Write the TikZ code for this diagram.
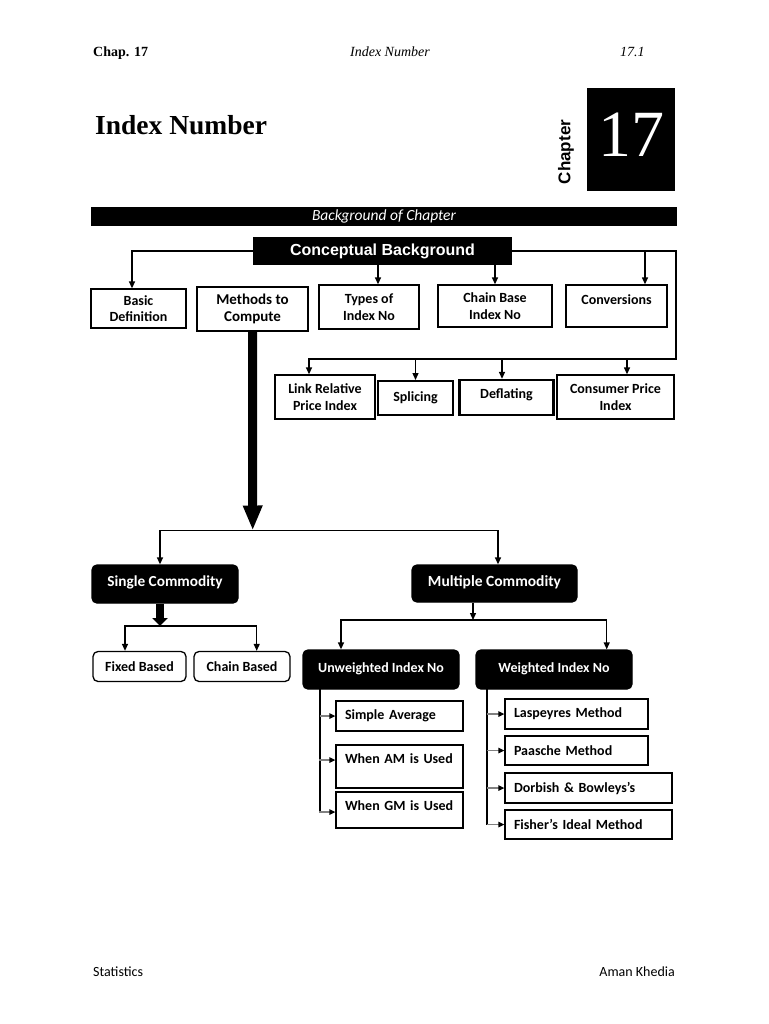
\documentclass[tikz,border=0pt]{standalone}
\usepackage{fontspec}
\setmainfont{Carlito}
\newfontfamily\tnr{Liberation Serif}
\newfontfamily\arial{Liberation Sans}
\usetikzlibrary{arrows.meta}
\begin{document}
\begin{tikzpicture}[x=1pt,y=-1pt,
  bf/.style={font=\bfseries\fontsize{14}{16.5}\selectfont},
  box/.style={draw, line width=1.3pt, inner sep=2pt, align=center, bf},
  tbox/.style={box, line width=2.3pt},
  bbox/.style={box, fill=black, text=white, rounded corners=5pt},
  rbox/.style={box, rounded corners=5pt},
  lbox/.style={box, align=left, inner xsep=9pt},
  ln/.style={line width=1.3pt},
  arr/.style={ln, -{Triangle[length=7pt,width=6pt]}},
  barr/.style={draw=black!50, line width=1.3pt, -{Triangle[length=6pt,width=5.5pt,color=black]}},
  vln/.style={line width=2.3pt}
]
\useasboundingbox (0,0) rectangle (768,1024);
\fill[white] (0,0) rectangle (768,1024);

% header
\node[anchor=base west, inner sep=0, font=\tnr\bfseries\fontsize{14}{16}\selectfont] (chap) at (93,57) {Chap. 17};
\node[anchor=base, inner sep=0, font=\tnr\itshape\fontsize{14}{16}\selectfont] (htitle) at (390,57) {Index Number};
\node[anchor=base west, inner sep=0, font=\tnr\itshape\fontsize{14}{16}\selectfont] (hpage) at (620,57) {17.1};

\node[anchor=base west, inner sep=0, font=\tnr\bfseries\fontsize{27.5}{30}\selectfont] (title) at (95,135) {Index Number};
\node[fill=black, text=white, minimum width=88pt, minimum height=103pt, inner sep=0, text depth=10pt,
      font=\tnr\fontsize{66}{66}\selectfont] (numbox) at (631,139.5) {17};
\node[rotate=90, inner sep=0, font=\arial\bfseries\fontsize{17}{19}\selectfont] (chapw) at (566,152) {Chapter};

\node[fill=black, text=white, minimum width=586pt, minimum height=19pt, inner sep=0,
      font=\itshape\fontsize{15.5}{17}\selectfont] (bar) at (384,216.5) {Background of Chapter};

% conceptual
\node[fill=black, text=white, minimum width=259pt, minimum height=28pt, inner sep=0,
      font=\arial\bfseries\fontsize{16}{18}\selectfont] (concept) at (382.5,251) {Conceptual Background};

\node[box, minimum width=95pt, minimum height=39pt] (basic) at (138.5,308.5) {Basic\\Definition};
\node[tbox, minimum width=111pt, minimum height=44pt, font=\bfseries\fontsize{15}{17.5}\selectfont] (methods) at (252.5,309) {Methods to\\Compute};
\node[box, minimum width=100pt, minimum height=44pt] (types) at (369,307) {Types of\\Index No};
\node[box, minimum width=114pt, minimum height=42pt] (chain) at (495,306) {Chain Base\\Index No};
\node[box, minimum width=101pt, minimum height=42pt, text height=17pt, text depth=21pt] (conv) at (616.5,306) {Conversions};

\node[box, minimum width=100pt, minimum height=44pt] (link) at (325,397) {Link Relative\\Price Index};
\node[box, line width=2pt, minimum width=75pt, minimum height=34pt] (splicing) at (415.5,398) {Splicing};
\node[tbox, minimum width=94pt, minimum height=35pt, text height=12pt, text depth=10pt] (deflating) at (506.5,397.5) {Deflating};
\node[box, minimum width=117pt, minimum height=44pt] (cpi) at (615.5,397) {Consumer Price\\Index};

\coordinate (rt) at (676,251);
\coordinate (rb) at (676,359);
\draw[arr] (concept.west) -| ([xshift=-6.5pt]basic.north);
\draw[arr] ([xshift=9pt]types.north |- concept.south) -- ([xshift=9pt]types.north);
\draw[arr] (chain.north |- concept.south) -- (chain.north);
\draw[arr] ([xshift=28.5pt]conv.north |- concept.east) -- ([xshift=28.5pt]conv.north);
\draw[arr] (concept.east) -- (rt) -- (rb) -| ([xshift=-16pt]link.north);
\draw[arr] (splicing.north |- rb) -- (splicing.north);
\draw[arr] ([xshift=-4.5pt]deflating.north |- rb) -- ([xshift=-4.5pt]deflating.north);
\draw[arr] ([xshift=11.5pt]cpi.north |- rb) -- ([xshift=11.5pt]cpi.north);

% commodity level
\node[bbox, minimum width=146pt, minimum height=38pt, text height=12pt, text depth=7pt,
      font=\bfseries\fontsize{15.3}{17}\selectfont] (single) at (165,584) {Single Commodity};
\node[bbox, minimum width=165pt, minimum height=37pt, text height=12pt, text depth=7pt,
      font=\bfseries\fontsize{15.5}{17}\selectfont] (multiple) at (494.5,583.5) {Multiple Commodity};

\coordinate (hl) at (252.7,530.5);
\draw[line width=9pt, -{Triangle[length=25pt,width=18pt]}] (methods.south) -- (hl);
\draw[arr] ([xshift=-70pt]hl) -| ([xshift=-5pt]single.north);
\draw[arr] ([xshift=-1pt]hl) -| ([xshift=3.5pt]multiple.north);
\draw[ln] ([xshift=-71pt]hl) -- ([xshift=1pt]hl);

\node[rbox, minimum width=93pt, minimum height=30pt] (fixed) at (139.5,666.5) {Fixed Based};
\node[rbox, minimum width=96pt, minimum height=30pt] (chainb) at (242,666.5) {Chain Based};
\coordinate (sl) at (160,626);
\draw[line width=8pt, -{Triangle[length=8pt,width=15pt]}] ([xshift=-5pt]single.south) -- (sl);
\draw[arr] (sl) -| ([xshift=-14.5pt]fixed.north);
\draw[arr] (sl) -| ([xshift=14.7pt]chainb.north);

\node[bbox, minimum width=156pt, minimum height=39pt, text height=12pt, text depth=7pt] (unw) at (381,669.5) {Unweighted Index No};
\node[bbox, minimum width=156pt, minimum height=39pt, text height=12pt, text depth=7pt] (wgt) at (554,669.5) {Weighted Index No};
\coordinate (ml) at (473,620);
\draw[arr] ([xshift=-21.5pt]multiple.south) -- (ml);
\draw[arr] (ml) -| ([xshift=-40pt]unw.north);
\draw[arr] (ml) -| ([xshift=52.7pt]wgt.north);

% unweighted list
\node[lbox, text width=109pt, minimum height=30pt] (sa) at (399.5,716) {Simple Average};
\node[lbox, text width=109pt, minimum height=43pt, text height=15pt, text depth=22pt] (am) at (399.5,766.5) {When AM is Used};
\node[lbox, text width=109pt, minimum height=36pt, text height=15pt, text depth=15pt] (gm) at (399.5,810) {When GM is Used};
\coordinate (ux) at (320,689);
\draw[vln] (ux) |- ([yshift=-2pt,xshift=-16pt]gm.west);
\draw[barr] (ux |- sa.west) -- (sa.west);
\draw[barr] ([yshift=6.5pt,xshift=-16pt]am.west) -- ([yshift=6.5pt]am.west);
\draw[barr] ([yshift=-2pt,xshift=-16pt]gm.west) -- ([yshift=-2pt]gm.west);

% weighted list
\node[lbox, text width=125pt, minimum height=30pt] (lasp) at (576.5,714) {Laspeyres Method};
\node[lbox, text width=125pt, minimum height=29pt] (paas) at (576.5,750.5) {Paasche Method};
\node[lbox, text width=149pt, minimum height=30pt] (dorb) at (588.5,788) {Dorbish \& Bowleys's};
\node[lbox, text width=149pt, minimum height=29pt] (fish) at (588.5,824.5) {Fisher's Ideal Method};
\coordinate (wx) at (487,689);
\draw[vln] (wx) -- (wx |- fish.west);
\draw[barr] (wx |- lasp.west) -- (lasp.west);
\draw[barr] (wx |- paas.west) -- (paas.west);
\draw[barr] (wx |- dorb.west) -- (dorb.west);
\draw[barr] (wx |- fish.west) -- (fish.west);

% footer
\node[anchor=base west, inner sep=0, font=\fontsize{14}{16}\selectfont] (fl) at (93,976) {Statistics};
\node[anchor=base east, inner sep=0, font=\fontsize{14}{16}\selectfont] (fr) at (675,976) {Aman Khedia};
\end{tikzpicture}
\end{document}
